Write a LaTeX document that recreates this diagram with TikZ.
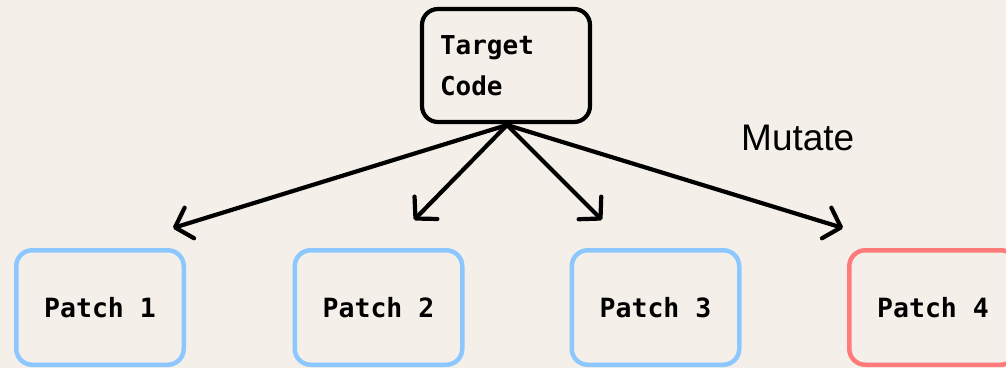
\documentclass[tikz,border=0pt]{standalone}
\usepackage{fontspec}
\setmainfont{Liberation Sans}
\newfontfamily\codefont{DejaVu Sans Mono}
\usetikzlibrary{arrows.meta}
\definecolor{bgc}{HTML}{F4F0E9}
\definecolor{bluec}{HTML}{8CC8FF}
\definecolor{redc}{HTML}{FF7B7B}
\tikzset{
  patchbox/.style={draw=bluec, line width=4.5pt, rounded corners=16pt, minimum width=167.5pt, minimum height=114.5pt, inner sep=0pt, font=\codefont\bfseries\fontsize{26.5}{30}\selectfont},
  targetbox/.style={draw=black, line width=4.2pt, rounded corners=16pt, minimum width=168pt, minimum height=113pt, inner xsep=18pt, inner ysep=0pt, text width=132pt, align=left, font=\codefont\bfseries\fontsize{26}{41}\selectfont},
  mutarrow/.style={line width=4.2pt, line cap=round, line join=round, -{Straight Barb[length=15pt, width=32pt, line cap=round, line join=round]}}
}
\begin{document}
\begin{tikzpicture}[x=1pt, y=-1pt]
\fill[bgc] (0,0) rectangle (1006,368);
\useasboundingbox (0,0) rectangle (1006,368);
\node[targetbox] (target) at (506,65.5) {Target\\Code};
\node[patchbox] (p1) at (100,307.5) {Patch 1};
\node[patchbox] (p2) at (378.5,307.5) {Patch 2};
\node[patchbox] (p3) at (655.5,307.5) {Patch 3};
\node[patchbox, draw=redc] (p4) at (933,307.5) {Patch 4};
\node[anchor=base west, inner sep=0pt, font=\fontsize{37}{42}\selectfont] (mut) at (741,150) {Mutate};
\coordinate (src) at (507,125);
\coordinate (t1) at (173,228);
\coordinate (t2) at (414,220);
\coordinate (t3) at (602,220);
\coordinate (t4) at (843,228);
\draw[mutarrow] (src) -- (t1);
\draw[mutarrow] (src) -- (t2);
\draw[mutarrow] (src) -- (t3);
\draw[mutarrow] (src) -- (t4);
\end{tikzpicture}
\end{document}
